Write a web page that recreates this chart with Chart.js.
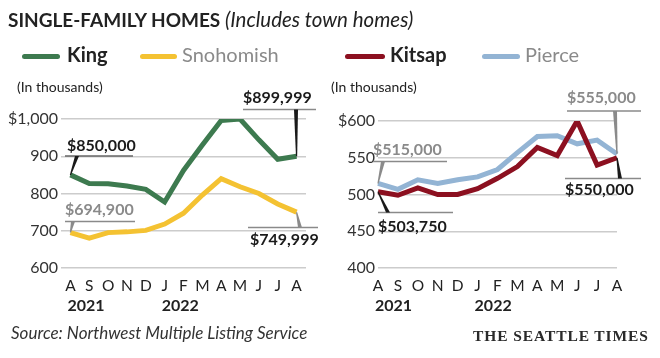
<!DOCTYPE html>
<html>
<head>
<meta charset="utf-8">
<script src="https://cdn.jsdelivr.net/npm/chart.js@4/dist/chart.umd.min.js"></script>
<style>
  body { margin: 0; background: #fff; }
  #wrap { position: relative; width: 660px; height: 358px; overflow: hidden; font-family: Lato, 'Open Sans', sans-serif; color: #222; }
  #wrap canvas { position: absolute; top: 0; }
  .txt { position: absolute; white-space: nowrap; }
  .title { left: 8px; top: 7px; font-size: 19px; font-weight: 700; color: #222; }
  .title i { font-weight: 400; font-size: 20.5px; }
  .sw { position: absolute; height: 5px; border-radius: 3px; }
  .leg { top: 42px; font-size: 20px; }
  .unit { top: 78px; font-size: 14px; color: #222; }
  .src { left: 11px; top: 322px; font-size: 17px; font-style: italic; color: #333; }
  .brand { left: 473px; top: 327px; font-size: 15.5px; font-weight: 700; font-family: 'Liberation Serif', 'DejaVu Serif', serif; letter-spacing: 0.9px; color: #2a2a2a; }
</style>
</head>
<body>
<div id="wrap">
  <canvas id="leftChart" width="330" height="358" style="left:0"></canvas>
  <canvas id="rightChart" width="330" height="358" style="left:330px"></canvas>

  <div class="txt title">SINGLE-FAMILY HOMES <i>(Includes town homes)</i></div>

  <div class="sw" style="left:22px;top:54px;width:38px;background:#3d7a4f"></div>
  <div class="txt leg" style="left:67px;font-weight:700">King</div>
  <div class="sw" style="left:140px;top:54px;width:37px;background:#f4c232"></div>
  <div class="txt leg" style="left:182px;color:#8a8a8a">Snohomish</div>
  <div class="sw" style="left:345px;top:54px;width:40px;background:#8c1020"></div>
  <div class="txt leg" style="left:390px;font-weight:700">Kitsap</div>
  <div class="sw" style="left:482px;top:54px;width:38px;background:#93b4d4"></div>
  <div class="txt leg" style="left:525px;color:#8a8a8a">Pierce</div>

  <div class="txt unit" style="left:17px">(In thousands)</div>
  <div class="txt unit" style="left:331px">(In thousands)</div>

  <div class="txt src">Source: Northwest Multiple Listing Service</div>
  <div class="txt brand">THE SEATTLE TIMES</div>
</div>

<script>
// months Aug 2021 - Aug 2022
const months = ['A','S','O','N','D','J','F','M','A','M','J','J','A']
const yearLabels = [[0, '2021'], [5, '2022']]

// median price, thousands of dollars
const king      = [850, 827, 826, 820, 811, 777, 862, 930, 996, 1000, 944, 892, 900]
const snohomish = [695, 680, 695, 697, 701, 718, 747, 796, 840, 818, 800, 772, 750]
const kitsap    = [503.75, 499, 509, 500, 500, 508, 522, 538, 564, 553, 600, 540, 550]
const pierce    = [515, 507, 520, 515, 520, 524, 534, 557, 579, 580, 569, 574, 555]

const leftTicks = [600, 700, 800, 900, 1000]
const rightTicks = [400, 450, 500, 550, 600]

const GREEN = '#3d7a4f', YELLOW = '#f4c232', RED = '#8c1020', BLUE = '#93b4d4'
const GRAY = '#8a8a8a', INK = '#1a1a1a'

Chart.defaults.font.family = "Lato, 'Open Sans', sans-serif"
Chart.defaults.color = '#222'

// callout labels with a rule and a tapered leader to the data point
function calloutPlugin(items){
  return {
    id: 'callouts',
    afterDatasetsDraw(chart){
      const ctx = chart.ctx
      items.forEach(a => {
        const pt = chart.getDatasetMeta(a.ds).data[a.idx]
        ctx.save()
        ctx.strokeStyle = a.ruleColor || GRAY
        ctx.lineWidth = 1.5
        ctx.beginPath()
        ctx.moveTo(a.x0, a.ry)
        ctx.lineTo(a.x1, a.ry)
        ctx.stroke()

        ctx.fillStyle = a.lead
        ctx.beginPath()
        ctx.moveTo(a.lx - 2, a.ry)
        ctx.lineTo(a.lx + 2, a.ry)
        ctx.lineTo(pt.x + 0.6, pt.y)
        ctx.lineTo(pt.x - 0.6, pt.y)
        ctx.closePath()
        ctx.fill()

        ctx.font = "bold 16px Lato, 'Open Sans', sans-serif"
        ctx.fillStyle = a.color
        ctx.textAlign = 'left'
        ctx.textBaseline = 'middle'
        ctx.fillText(a.text, a.tx, a.ty)
        ctx.restore()
      })
    }
  }
}

const yearPlugin = {
  id: 'years',
  afterDraw(chart){
    const ctx = chart.ctx
    const xs = chart.scales.x
    ctx.save()
    ctx.font = "bold 16px Lato, 'Open Sans', sans-serif"
    ctx.fillStyle = '#222'
    ctx.textAlign = 'left'
    ctx.textBaseline = 'middle'
    yearLabels.forEach(([i, t]) => {
      ctx.fillText(t, xs.getPixelForValue(i) - 3, 306)
    })
    ctx.restore()
  }
}

function lineSet(label, data, color){
  return {
    label: label,
    data: data,
    borderColor: color,
    backgroundColor: color,
    borderWidth: 5,
    pointRadius: 0,
    tension: 0,
    fill: false
  }
}

function makeOptions(ticksArr, minV, maxV, yWidth, padRight, padTop, xOffset, topLabel){
  return {
    responsive: false,
    animation: false,
    devicePixelRatio: 1,
    layout: { padding: { left: 0, right: padRight, top: padTop, bottom: 0 } },
    plugins: { legend: { display: false }, tooltip: { enabled: false } },
    scales: {
      x: {
        offset: xOffset,
        grid: { display: false, drawTicks: false },
        border: { display: false },
        ticks: { font: { size: 15.5 }, color: '#222', padding: 9, maxRotation: 0, autoSkip: false },
        afterFit: s => { s.height = 90 }
      },
      y: {
        min: minV,
        max: maxV,
        afterBuildTicks: s => { s.ticks = ticksArr.map(v => ({ value: v })) },
        grid: { color: '#cccccc', lineWidth: 1.5, drawTicks: false },
        border: { display: false },
        ticks: {
          font: { size: 16 },
          color: '#333',
          padding: 3,
          callback: v => v === maxV ? topLabel : v
        },
        afterFit: s => { s.width = yWidth }
      }
    }
  }
}

new Chart(document.getElementById('leftChart'), {
  type: 'line',
  data: {
    labels: months,
    datasets: [ lineSet('King', king, GREEN), lineSet('Snohomish', snohomish, YELLOW) ]
  },
  options: makeOptions(leftTicks, 600, 1000, 61, 24, 119, true, '$1,000'),
  plugins: [yearPlugin, calloutPlugin([
    { ds: 0, idx: 0, text: '$850,000', color: INK, lead: INK, tx: 67, ty: 146, x0: 65, x1: 133, ry: 156, lx: 77, ruleColor: '#666' },
    { ds: 1, idx: 0, text: '$694,900', color: GRAY, lead: GRAY, tx: 65, ty: 210, x0: 65, x1: 135, ry: 221.5, lx: 73 },
    { ds: 0, idx: 12, text: '$899,999', color: INK, lead: INK, tx: 243, ty: 98, x0: 243, x1: 316, ry: 109.5, lx: 296 },
    { ds: 1, idx: 12, text: '$749,999', color: INK, lead: GRAY, tx: 250, ty: 240, x0: 248, x1: 318, ry: 227.5, lx: 300 }
  ])]
})

new Chart(document.getElementById('rightChart'), {
  type: 'line',
  data: {
    labels: months,
    datasets: [ lineSet('Kitsap', kitsap, RED), lineSet('Pierce', pierce, BLUE) ]
  },
  options: makeOptions(rightTicks, 400, 600, 48, 43, 121, false, '$600'),
  plugins: [yearPlugin, calloutPlugin([
    { ds: 1, idx: 0, text: '$515,000', color: GRAY, lead: GRAY, tx: 43, ty: 150, x0: 43, x1: 117, ry: 161.5, lx: 53 },
    { ds: 0, idx: 0, text: '$503,750', color: INK, lead: INK, tx: 48, ty: 227, x0: 48, x1: 123, ry: 212.5, lx: 58 },
    { ds: 1, idx: 12, text: '$555,000', color: GRAY, lead: GRAY, tx: 237, ty: 98, x0: 237, x1: 311, ry: 111, lx: 285 },
    { ds: 0, idx: 12, text: '$550,000', color: INK, lead: INK, tx: 235, ty: 190, x0: 235, x1: 311, ry: 178.5, lx: 290 }
  ])]
})
</script>
</body>
</html>
